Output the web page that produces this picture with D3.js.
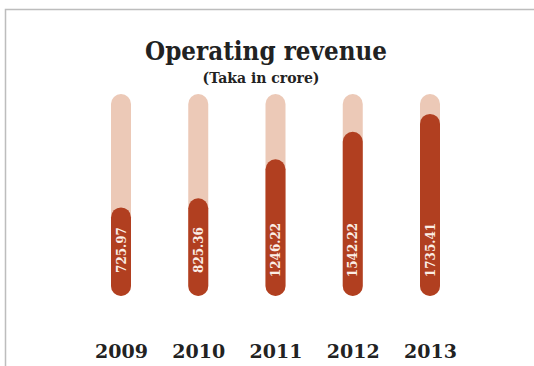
<!DOCTYPE html>
<html>
<head>
<meta charset="utf-8">
<script src="https://cdn.jsdelivr.net/npm/d3@7"></script>
<style>
  html, body { margin: 0; padding: 0; background: #fff; }
  svg { display: block; }
</style>
</head>
<body>
<script>
// Operating revenue, Taka in crore
const years = ["2009", "2010", "2011", "2012", "2013"];
const revenue = [725.97, 825.36, 1246.22, 1542.22, 1735.41];
const valueLabels = ["725.97", "825.36", "1246.22", "1542.22", "1735.41"];

const W = 534, H = 366;
const svg = d3.select("body").append("svg")
  .attr("width", W).attr("height", H);

// panel frame (top and left edges)
svg.append("path")
  .attr("d", `M5.5,${H} V9.5 H${W}`)
  .attr("fill", "none")
  .attr("stroke", "#bdbdbd")
  .attr("stroke-width", 1.5);

const barW = 20;
const x = d3.scalePoint().domain(years).range([121, 430]);
const y = d3.scaleLinear().domain([-230, 1950]).range([296, 94]);

const g = svg.append("g");

// track behind each bar
g.selectAll("rect.track").data(years).join("rect")
  .attr("class", "track")
  .attr("x", d => x(d) - barW / 2)
  .attr("y", y(1950))
  .attr("width", barW)
  .attr("height", y(-230) - y(1950))
  .attr("rx", barW / 2)
  .attr("fill", "#ecc9b7");

// revenue bars
g.selectAll("rect.bar").data(revenue).join("rect")
  .attr("class", "bar")
  .attr("x", (d, i) => x(years[i]) - barW / 2)
  .attr("y", d => y(d))
  .attr("width", barW)
  .attr("height", d => y(-230) - y(d))
  .attr("rx", barW / 2)
  .attr("fill", "#b13f20");

// value labels, rotated inside the bars
g.selectAll("text.val").data(valueLabels).join("text")
  .attr("class", "val")
  .attr("transform", (d, i) => `translate(${x(years[i]) + 4.5},250) rotate(-90)`)
  .attr("text-anchor", "middle")
  .attr("font-family", "DejaVu Serif, serif")
  .attr("font-weight", "bold")
  .attr("font-size", 12)
  .attr("fill", "#fbeee6")
  .text(d => d);

// year axis
const axis = d3.axisBottom(x).tickSize(0).tickPadding(0);
const ax = svg.append("g").attr("transform", "translate(0,344)").call(axis);
ax.select(".domain").remove();
ax.selectAll("text")
  .attr("dy", "0.72em")
  .attr("font-family", "DejaVu Serif, serif")
  .attr("font-weight", "bold")
  .attr("font-size", 19)
  .attr("fill", "#222");

// titles
svg.append("text")
  .attr("x", 266).attr("y", 60)
  .attr("text-anchor", "middle")
  .attr("font-family", "DejaVu Serif, serif")
  .attr("font-weight", "bold")
  .attr("font-size", 26)
  .attr("fill", "#222")
  .attr("textLength", 242)
  .attr("lengthAdjust", "spacingAndGlyphs")
  .text("Operating revenue");

svg.append("text")
  .attr("x", 261).attr("y", 83)
  .attr("text-anchor", "middle")
  .attr("font-family", "DejaVu Serif, serif")
  .attr("font-weight", "bold")
  .attr("font-size", 14)
  .attr("fill", "#222")
  .text("(Taka in crore)");
</script>
</body>
</html>
